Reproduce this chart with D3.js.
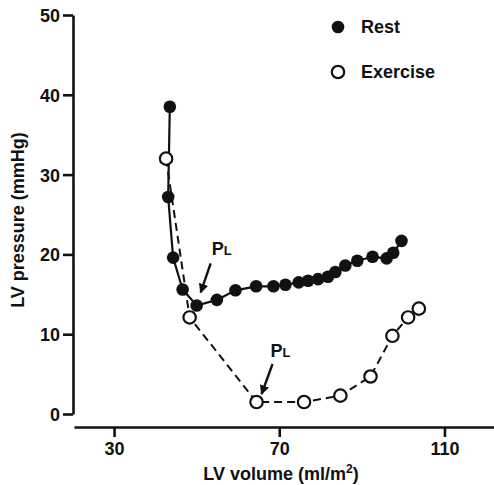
<!DOCTYPE html>
<html>
<head>
<meta charset="utf-8">
<script src="https://cdn.jsdelivr.net/npm/d3@7"></script>
<style>
  body { margin: 0; background: #fff; }
  text { font-family: "Liberation Sans", Arial, sans-serif; font-weight: bold; fill: #111; }
</style>
</head>
<body>
<svg id="chart"></svg>
<script>
// LV volume (ml/m2) and pressure (mmHg)
var restVolume = [43.5, 43.1, 44.3, 46.6, 50.0, 54.9, 59.4, 64.4, 68.6, 71.5, 74.7, 77.0, 79.4, 81.8, 83.6, 86.0, 88.9, 92.6, 96.0, 97.6, 99.6];
var restPressure = [38.5, 27.2, 19.6, 15.6, 13.6, 14.3, 15.5, 16.0, 16.0, 16.2, 16.5, 16.7, 16.9, 17.2, 17.8, 18.6, 19.2, 19.7, 19.5, 20.2, 21.7];
var exerciseVolume = [42.6, 48.3, 64.5, 76.0, 84.8, 92.1, 97.4, 101.2, 103.8];
var exercisePressure = [32.0, 12.1, 1.5, 1.5, 2.3, 4.7, 9.8, 12.1, 13.2];
var xTicks = [30, 70, 110];
var yTicks = [0, 10, 20, 30, 40, 50];
var seriesNames = ["Rest", "Exercise"];
// index of the PL point in each series
var restPL = 4, exercisePL = 2;

var dimensions = { width: 494, height: 485 };

var svg = d3.select("#chart")
    .attr("width", dimensions.width)
    .attr("height", dimensions.height);

var xScale = d3.scaleLinear().domain([20.3, 122]).range([74, 494]);
var yScale = d3.scaleLinear().domain([0, 50]).range([414, 15]);

var rest = restVolume.map((v, i) => ({ v: v, p: restPressure[i] }));
var exercise = exerciseVolume.map((v, i) => ({ v: v, p: exercisePressure[i] }));

// axes
var xAxis = svg.append("g")
    .attr("transform", "translate(0,427)")
    .call(d3.axisBottom(xScale).tickValues(xTicks).tickSize(10).tickSizeOuter(0).tickPadding(5));
var yAxis = svg.append("g")
    .attr("transform", "translate(73,0)")
    .call(d3.axisLeft(yScale).tickValues(yTicks).tickSize(10).tickSizeOuter(0).tickPadding(3));

[xAxis, yAxis].forEach(function(ax) {
    ax.select(".domain").attr("stroke", "#111").attr("stroke-width", 2.6);
    ax.selectAll(".tick line").attr("stroke", "#111").attr("stroke-width", 2.6);
    ax.selectAll(".tick text")
        .attr("font-size", 18)
        .attr("font-family", "Liberation Sans, Arial, sans-serif")
        .attr("font-weight", "bold")
        .attr("fill", "#111");
});
yAxis.selectAll(".tick text").attr("dy", "0.36em");

// axis titles
var xTitle = svg.append("text")
    .attr("x", 281)
    .attr("y", 480)
    .attr("text-anchor", "middle")
    .attr("font-size", 18);
xTitle.append("tspan").text("LV volume (ml/m");
xTitle.append("tspan").attr("font-size", 12).attr("dy", -7).text("2");
xTitle.append("tspan").attr("dy", 7).text(")");

svg.append("text")
    .attr("transform", "translate(24,220) rotate(-90)")
    .attr("text-anchor", "middle")
    .attr("font-size", 18)
    .text("LV pressure (mmHg)");

// lines
var line = d3.line().x(d => xScale(d.v)).y(d => yScale(d.p));

svg.append("path")
    .datum(exercise)
    .attr("d", line)
    .attr("fill", "none")
    .attr("stroke", "#111")
    .attr("stroke-width", 2)
    .attr("stroke-dasharray", "8,5");

svg.append("path")
    .datum(rest)
    .attr("d", line)
    .attr("fill", "none")
    .attr("stroke", "#111")
    .attr("stroke-width", 2.2);

// markers
svg.selectAll(".rest")
    .data(rest)
    .enter()
    .append("circle")
    .attr("class", "rest")
    .attr("cx", d => xScale(d.v))
    .attr("cy", d => yScale(d.p))
    .attr("r", 6.3)
    .attr("fill", "#111");

svg.selectAll(".exercise")
    .data(exercise)
    .enter()
    .append("circle")
    .attr("class", "exercise")
    .attr("cx", d => xScale(d.v))
    .attr("cy", d => yScale(d.p))
    .attr("r", 6.2)
    .attr("fill", "#fff")
    .attr("stroke", "#111")
    .attr("stroke-width", 2.2);

// PL annotations
svg.append("defs").append("marker")
    .attr("id", "head")
    .attr("viewBox", "0 0 10 10")
    .attr("refX", 9)
    .attr("refY", 5)
    .attr("markerWidth", 4)
    .attr("markerHeight", 4)
    .attr("markerUnits", "strokeWidth")
    .attr("orient", "auto")
    .append("path")
    .attr("d", "M0,0L10,5L0,10Z")
    .attr("fill", "#111");

function annotate(pt, dxText, dyText, dx0, dy0, dx1, dy1) {
    var px = xScale(pt.v), py = yScale(pt.p);
    var t = svg.append("text")
        .attr("x", px + dxText)
        .attr("y", py + dyText)
        .attr("font-size", 18)
        .attr("font-weight", "normal");
    t.append("tspan").text("P");
    t.append("tspan").attr("font-size", 13).text("L");
    svg.append("line")
        .attr("x1", px + dx0).attr("y1", py + dy0)
        .attr("x2", px + dx1).attr("y2", py + dy1)
        .attr("stroke", "#111")
        .attr("stroke-width", 2.4)
        .attr("marker-end", "url(#head)");
}
annotate(rest[restPL], 15, -50, 14, -42, 4, -13);
annotate(exercise[exercisePL], 14, -45, 16, -38, 5, -8);

// legend
var legend = svg.selectAll(".legend")
    .data(seriesNames)
    .enter()
    .append("g")
    .attr("class", "legend")
    .attr("transform", (d, i) => `translate(338, ${27 + i * 45})`);

legend.append("circle")
    .attr("r", d => d === "Rest" ? 6.3 : 6.2)
    .attr("fill", d => d === "Rest" ? "#111" : "#fff")
    .attr("stroke", "#111")
    .attr("stroke-width", d => d === "Rest" ? 0 : 2.2);

legend.append("text")
    .attr("x", 23)
    .attr("y", 6)
    .attr("font-size", 18)
    .text(d => d);
</script>
</body>
</html>
